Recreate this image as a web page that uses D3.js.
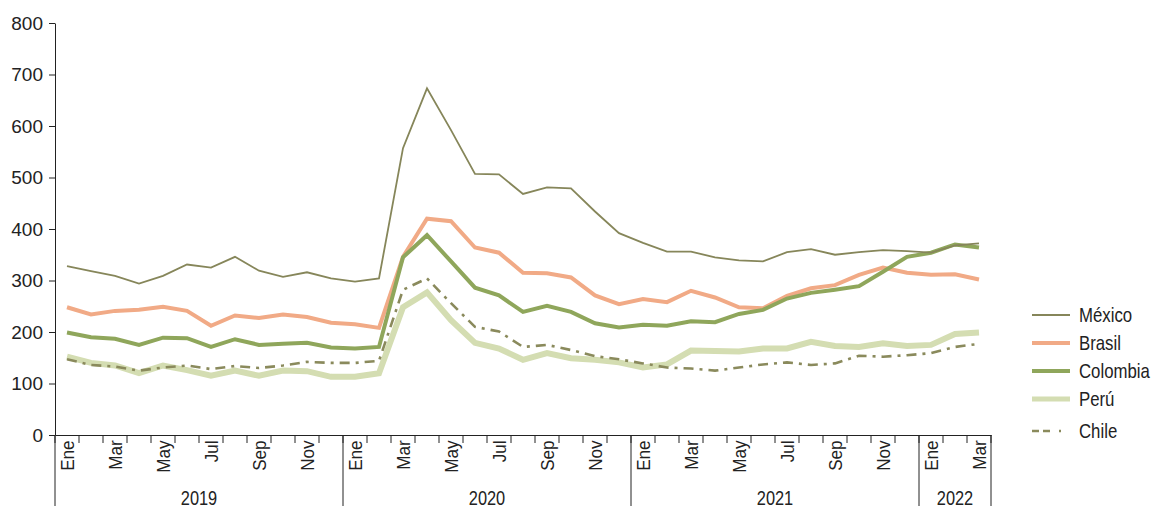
<!DOCTYPE html>
<html>
<head>
<meta charset="utf-8">
<script src="https://cdn.jsdelivr.net/npm/d3@7"></script>
<style>
  body { margin: 0; background: #fff; }
  text { font-family: "Liberation Sans", Arial, sans-serif; fill: #222; }
  .axis path, .axis line { stroke: #222; }
</style>
</head>
<body>
<div id="chart"></div>
<script>
// data: monthly values Jan 2019 - Mar 2022
var monthNames = ["Ene","Feb","Mar","Abr","May","Jun","Jul","Ago","Sep","Oct","Nov","Dic"];
var years = ["2019","2020","2021","2022"];
var yearMonths = [12, 12, 12, 3];
var yTicks = [0,100,200,300,400,500,600,700,800];

var mexico = [328,318,309,294,309,331,325,346,319,307,316,304,
              298,304,557,673,592,507,506,468,481,479,434,392,
              373,356,356,345,339,337,355,361,350,355,359,357,354,368,372];
var brasil = [248,234,241,243,249,241,212,232,227,234,229,218,
              215,208,346,420,415,364,354,315,314,306,271,254,
              264,258,280,267,248,246,270,285,291,311,325,315,311,312,302];
var colombia = [199,190,187,175,189,188,171,186,175,177,179,170,
                168,171,345,388,337,286,271,239,251,239,217,209,
                214,212,221,219,235,243,265,276,282,289,317,346,354,370,364];
var peru = [152,140,135,120,135,126,115,125,115,125,124,113,
            113,120,248,277,223,179,168,146,159,149,146,141,
            131,137,164,163,162,168,168,181,173,171,178,173,175,196,199];
var chile = [147,136,133,125,131,135,128,134,130,135,142,140,
             140,144,282,304,256,210,201,171,175,165,153,147,
             139,131,129,125,131,137,141,136,139,154,152,155,159,171,177];

var series = [
  {name: "Perú", values: peru, color: "#d4ddb2", width: 6, dash: null},
  {name: "Chile", values: chile, color: "#8a8a5c", width: 2.6, dash: "10,6,3,6"},
  {name: "Brasil", values: brasil, color: "#f1aa86", width: 4, dash: null},
  {name: "Colombia", values: colombia, color: "#8fa65b", width: 4, dash: null},
  {name: "México", values: mexico, color: "#86865a", width: 1.8, dash: null}
];
var legendOrder = ["México","Brasil","Colombia","Perú","Chile"];

var W = 1151, H = 508;
var plotLeft = 55, plotRight = 991, plotTop = 23, plotBase = 435;
var n = mexico.length;
var idx = d3.range(n);

var svg = d3.select("#chart").append("svg")
    .attr("width", W)
    .attr("height", H);

var x = d3.scaleBand()
          .domain(idx)
          .range([plotLeft, plotRight])
          .padding(0);
var y = d3.scaleLinear()
          .domain([0, 800])
          .range([plotBase, plotTop]);

function edge(i) { return i < n ? x(i) : x(n - 1) + x.bandwidth(); }

// y axis
svg.append("g")
    .attr("class", "axis")
    .attr("transform", "translate(" + plotLeft + ",0)")
    .call(d3.axisLeft(y).tickValues(yTicks).tickSize(6).tickPadding(6).tickSizeOuter(0))
    .selectAll("text")
      .style("font-size", "19px");

// x axis with month labels at band centres
var xAxis = svg.append("g")
    .attr("class", "axis")
    .attr("transform", "translate(0," + plotBase + ")")
    .call(d3.axisBottom(x).tickSize(0).tickSizeOuter(0)
            .tickFormat(function(i) { return i % 2 == 0 ? monthNames[i % 12] : ""; }));
xAxis.selectAll("text")
    .attr("transform", "rotate(-90) scale(0.9,1)")
    .attr("x", -6)
    .attr("y", 0)
    .attr("dy", "0.36em")
    .style("text-anchor", "end")
    .style("font-size", "19px");

// month tick marks at band boundaries
svg.append("g").selectAll("line")
    .data(d3.range(n + 1))
    .enter().append("line")
      .attr("x1", edge)
      .attr("x2", edge)
      .attr("y1", plotBase)
      .attr("y2", plotBase + 8)
      .attr("stroke", "#222");

// year separators and labels
var yearStart = [0];
yearMonths.forEach(function(m, k) { yearStart.push(yearStart[k] + m); });
svg.append("g").selectAll("line")
    .data(yearStart)
    .enter().append("line")
      .attr("x1", edge)
      .attr("x2", edge)
      .attr("y1", plotBase)
      .attr("y2", 506)
      .attr("stroke", "#222");

svg.append("g").selectAll("text")
    .data(years)
    .enter().append("text")
      .attr("transform", function(d, k) {
        var cx = (edge(yearStart[k]) + edge(yearStart[k + 1])) / 2;
        return "translate(" + cx + ",505) scale(0.78,1)";
      })
      .style("text-anchor", "middle")
      .style("font-size", "21px")
      .text(function(d) { return d; });

// lines
var line = d3.line()
    .x(function(d, i) { return x(i) + x.bandwidth() / 2; })
    .y(function(d) { return y(d); });

svg.append("g").selectAll("path")
    .data(series)
    .enter().append("path")
      .attr("d", function(s) { return line(s.values); })
      .attr("fill", "none")
      .attr("stroke", function(s) { return s.color; })
      .attr("stroke-width", function(s) { return s.width; })
      .attr("stroke-dasharray", function(s) { return s.dash; })
      .attr("stroke-linejoin", "miter");

// legend
function byName(d) { return series.find(function(s) { return s.name == d; }); }
var legendY = [315, 343, 371, 399, 431];
var leg = svg.append("g").selectAll("g")
    .data(legendOrder)
    .enter().append("g")
      .attr("transform", function(d, i) { return "translate(1032," + legendY[i] + ")"; });
leg.append("line")
    .attr("x1", 0).attr("x2", 38)
    .attr("stroke", function(d) { return byName(d).color; })
    .attr("stroke-width", function(d) { return Math.min(5, byName(d).width); })
    .attr("stroke-dasharray", function(d) { return d == "Chile" ? "7,4,7,9,2,20" : null; });
leg.append("text")
    .attr("transform", "translate(47,0) scale(0.84,1)")
    .attr("dy", "0.35em")
    .style("font-size", "20px")
    .text(function(d) { return d; });
</script>
</body>
</html>
